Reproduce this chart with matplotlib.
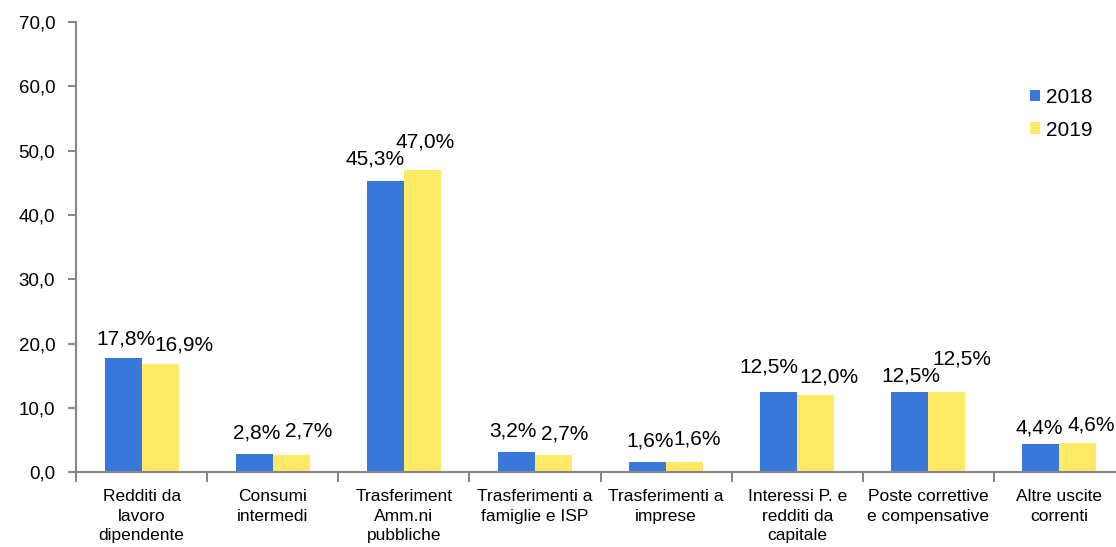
import numpy as np
import matplotlib.pyplot as plt

# categorie e valori (%)
categorie = ["Redditi da\nlavoro\ndipendente", "Consumi\nintermedi",
             "Trasferiment\nAmm.ni\npubbliche", "Trasferimenti a\nfamiglie e ISP",
             "Trasferimenti a\nimprese", "Interessi P. e\nredditi da\ncapitale",
             "Poste correttive\ne compensative", "Altre uscite\ncorrenti"]
anni = ["2018", "2019"]
v2018 = [17.8, 2.8, 45.3, 3.2, 1.6, 12.5, 12.5, 4.4]
v2019 = [16.9, 2.7, 47.0, 2.7, 1.6, 12.0, 12.5, 4.6]

# spostamenti delle etichette (pixel: dx, dy dal centro/cima della barra)
off2018 = [(2.5, 21), (2.5, 23), (-10, 24), (-3.5, 23), (3, 23), (-9.5, 27.5), (1, 18.5), (-2, 18)]
off2019 = [(24, 21), (17.5, 26), (3, 30), (11.5, 23), (13, 25), (13, 20.7), (15, 35.5), (13, 20)]

plt.rcParams['font.family'] = ['Liberation Sans', 'DejaVu Sans']

fig = plt.figure(figsize=(11.16, 5.47), dpi=100)
ax = fig.add_axes([0.0681, 0.1362, 0.94, 0.824])

x = np.arange(len(categorie))
w = 0.282
ax.bar(x - w/2, v2018, w, color="#3878d8", label=anni[0])
ax.bar(x + w/2, v2019, w, color="#ffe966", label=anni[1])

# etichette dei dati
px = 0.72
for xs, vals, offs in [(x - w/2, v2018, off2018), (x + w/2, v2019, off2019)]:
    for xi, v, (dx, dy) in zip(xs, vals, offs):
        ax.annotate(f"{v:.1f}%".replace(".", ","), (xi, v), xytext=(dx*px, (dy - 2)*px),
                    textcoords="offset points", ha="center", va="center", fontsize=15)

ax.set_xlim(-0.5, len(categorie) - 0.5)
ax.set_ylim(0, 70)
yt = np.arange(0, 71, 10)
ax.set_yticks(yt)
ax.set_yticklabels([f"{t:.1f}".replace(".", ",") for t in yt], fontsize=13.5)

# tick x ai confini tra gruppi, etichette al centro
ax.set_xticks(np.arange(-0.5, len(categorie)))
ax.set_xticklabels([])
ax.set_xticks(x, minor=True)
ax.set_xticklabels(categorie, minor=True, fontsize=12.5, linespacing=1.37)
ax.tick_params(axis="x", which="minor", length=0, pad=12)
ax.tick_params(axis="x", which="major", length=7, color="#888888", width=1.5)
ax.tick_params(axis="y", length=6, color="#888888", width=1.5, pad=9)

for s in ["top", "right"]:
    ax.spines[s].set_visible(False)
for s in ["left", "bottom"]:
    ax.spines[s].set_color("#888888")
    ax.spines[s].set_linewidth(1.5)

fig.legend(loc="upper left", bbox_to_anchor=(0.9225, 0.839), frameon=False, fontsize=15,
           handlelength=0.48, handleheight=0.48, handletextpad=0.3, labelspacing=0.65,
           borderpad=0, borderaxespad=0)

plt.savefig("out.png")
